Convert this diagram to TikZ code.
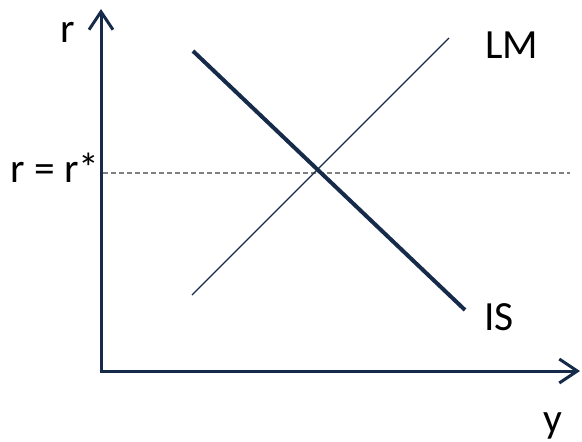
\documentclass[tikz,border=0pt]{standalone}
\usepackage{fontspec}
\setmainfont{Carlito}
\usetikzlibrary{arrows.meta}
\definecolor{navy}{RGB}{22,42,74}
\definecolor{dashgray}{RGB}{128,128,128}
\begin{document}
\begin{tikzpicture}[x=1pt,y=-1pt,
  axis/.style={draw=navy,line width=3pt,-{Straight Barb[length=18pt,width=24pt,line width=3pt]}},
  lbl/.style={inner sep=0pt,anchor=base west,font=\fontsize{41.5}{46}\selectfont},
  thincurve/.style={draw=navy,line width=1.4pt},
  thickcurve/.style={draw=navy,line width=4pt},
  refline/.style={draw=dashgray,line width=1.3pt,dash pattern=on 5pt off 3pt}]
\useasboundingbox (0,0) rectangle (582,442);
\coordinate (O) at (101,371);
\coordinate (ytop) at (101,9);
\coordinate (xend) at (580,371);
\coordinate (d1) at (103,173);
\coordinate (d2) at (570,173);
\coordinate (lm1) at (192,295);
\coordinate (lm2) at (449,38);
\coordinate (is1) at (193,51);
\coordinate (is2) at (465,310);
\draw[refline] (d1) -- (d2);
\draw[thincurve] (lm1) -- (lm2);
\draw[thickcurve] (is1) -- (is2);
\draw[axis] (O) -- (ytop);
\draw[axis] ([xshift=-1.5pt]O) -- (xend);
\node[lbl] (rlab) at (60,42) {r};
\node[lbl] (rstar) at (10,182) {r = r*};
\node[lbl] (lmlab) at (485,58) {LM};
\node[lbl] (islab) at (484,330) {IS};
\node[lbl] (ylab) at (543,432) {y};
\end{tikzpicture}
\end{document}
